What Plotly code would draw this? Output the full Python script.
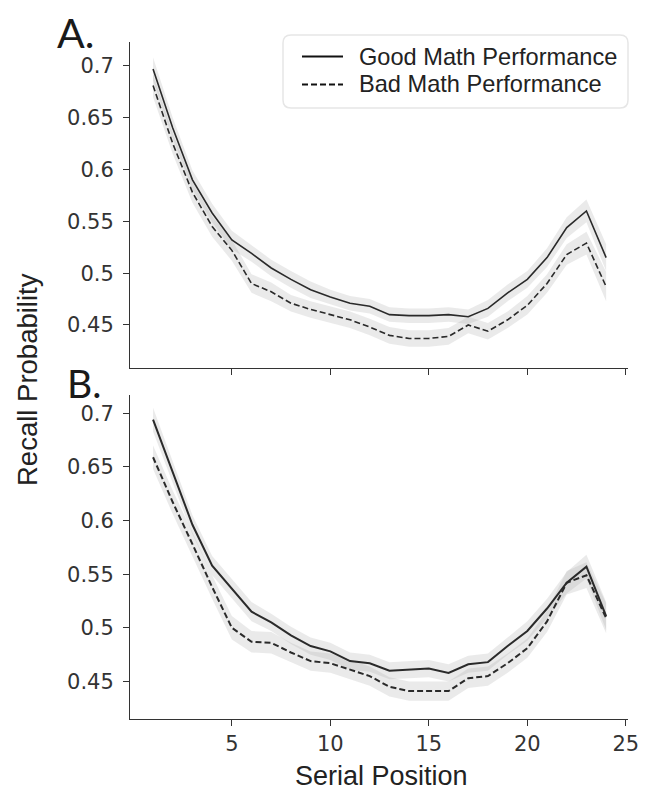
import plotly.graph_objects as go

# ---------------- data ----------------
positions = list(range(1, 25))

good_a = [0.697, 0.640, 0.590, 0.558, 0.532, 0.519, 0.505, 0.494, 0.484, 0.477, 0.471, 0.468,
          0.460, 0.459, 0.459, 0.460, 0.458, 0.466, 0.481, 0.494, 0.515, 0.544, 0.560, 0.515]
bad_a = [0.681, 0.625, 0.578, 0.545, 0.522, 0.490, 0.482, 0.471, 0.465, 0.460, 0.455, 0.448,
         0.440, 0.437, 0.437, 0.439, 0.450, 0.444, 0.455, 0.469, 0.490, 0.518, 0.529, 0.487]
good_b = [0.694, 0.645, 0.596, 0.558, 0.536, 0.515, 0.505, 0.493, 0.483, 0.478, 0.469, 0.467,
          0.460, 0.461, 0.462, 0.458, 0.466, 0.468, 0.483, 0.497, 0.518, 0.542, 0.557, 0.511]
bad_b = [0.659, 0.617, 0.578, 0.538, 0.500, 0.487, 0.486, 0.477, 0.469, 0.467, 0.461, 0.455,
         0.445, 0.441, 0.441, 0.441, 0.453, 0.455, 0.467, 0.481, 0.506, 0.542, 0.549, 0.509]

# confidence band half-widths
ci_good_a = [0.011, 0.010, 0.009, 0.009, 0.009, 0.008, 0.008, 0.008, 0.008, 0.007, 0.007, 0.007,
             0.007, 0.007, 0.007, 0.007, 0.007, 0.008, 0.008, 0.008, 0.009, 0.010, 0.011, 0.013]
ci_bad_a = [0.011, 0.010, 0.010, 0.010, 0.010, 0.009, 0.009, 0.008, 0.008, 0.008, 0.008, 0.008,
            0.008, 0.008, 0.008, 0.008, 0.008, 0.008, 0.008, 0.009, 0.009, 0.010, 0.011, 0.014]
ci_good_b = [0.011, 0.010, 0.009, 0.009, 0.009, 0.009, 0.008, 0.008, 0.008, 0.008, 0.008, 0.008,
             0.008, 0.008, 0.008, 0.008, 0.008, 0.008, 0.008, 0.009, 0.009, 0.010, 0.011, 0.013]
ci_bad_b = [0.011, 0.011, 0.011, 0.011, 0.011, 0.010, 0.010, 0.009, 0.009, 0.009, 0.009, 0.009,
            0.009, 0.009, 0.009, 0.009, 0.009, 0.009, 0.009, 0.009, 0.010, 0.011, 0.012, 0.014]

y_ticks = [0.45, 0.5, 0.55, 0.6, 0.65, 0.7]
y_tick_labels = ["0.45", "0.5", "0.55", "0.6", "0.65", "0.7"]
x_ticks = [5, 10, 15, 20, 25]
x_tick_labels = ["5", "10", "15", "20", "25"]
series_names = ["Good Math Performance", "Bad Math Performance"]

# ---------------- geometry ----------------
# The page body has an 8px margin, so the figure is drawn at (8, 8) in the window.
OFF = 8
W, H = 652 - OFF, 796 - OFF
# plot area in window pixels: x 130..628, y 42..719
L = 130 - OFF
R = W - (628 - OFF)
T = 42 - OFF
B = H - (719 - OFF)
PW, PH = W - L - R, H - T - B


def px_to_paper(sx, sy):
    """window pixel -> paper coordinate"""
    fx, fy = sx - OFF, sy - OFF
    return (fx - L) / PW, (H - B - fy) / PH


LINE_COL = "#2a2a2a"
BAND_COL = "rgba(175,175,175,0.26)"
DASH = "6px,3px"

fig = go.Figure()


def add_series(vals, ci, xa, ya, dash, width):
    upper = [v + c for v, c in zip(vals, ci)]
    lower = [v - c for v, c in zip(vals, ci)]
    fig.add_trace(go.Scatter(
        x=positions + positions[::-1], y=upper + lower[::-1],
        fill="toself", fillcolor=BAND_COL, line=dict(width=0),
        mode="lines", hoverinfo="skip", showlegend=False, xaxis=xa, yaxis=ya))
    return dict(vals=vals, xa=xa, ya=ya, dash=dash, width=width)


lines = []
lines.append(add_series(good_a, ci_good_a, "x", "y", "solid", 1.6))
lines.append(add_series(bad_a, ci_bad_a, "x", "y", DASH, 1.6))
lines.append(add_series(good_b, ci_good_b, "x2", "y2", "solid", 2.0))
lines.append(add_series(bad_b, ci_bad_b, "x2", "y2", DASH, 2.0))

for i, ln in enumerate(lines):
    fig.add_trace(go.Scatter(
        x=positions, y=ln["vals"], mode="lines",
        line=dict(color=LINE_COL, width=ln["width"], dash=ln["dash"]),
        name=series_names[i % 2], showlegend=False,
        xaxis=ln["xa"], yaxis=ln["ya"]))

top_dom = [(719 - 368) / PH, 1.0]
bot_dom = [0.0, (719 - 395) / PH]
x_range = [-0.17, 25.11]

axis_common = dict(showline=True, linecolor="#333333", linewidth=1, ticks="outside",
                   ticklen=6, tickcolor="#333333", tickwidth=1, showgrid=False,
                   zeroline=False, tickfont=dict(family="DejaVu Sans", size=21, color="#333333"))

fig.update_layout(
    width=W, height=H,
    margin=dict(l=L, r=R, t=T, b=B),
    paper_bgcolor="white", plot_bgcolor="white",
    showlegend=False,
    xaxis=dict(domain=[0, 1], range=x_range, anchor="y", tickvals=x_ticks,
               ticktext=x_tick_labels, showticklabels=False, **axis_common),
    yaxis=dict(domain=top_dom, range=[0.4085, 0.723], anchor="x", tickvals=y_ticks,
               ticktext=y_tick_labels, ticklabelstandoff=5, **axis_common),
    xaxis2=dict(domain=[0, 1], range=x_range, anchor="y2", tickvals=x_ticks,
                ticktext=x_tick_labels, **axis_common),
    yaxis2=dict(domain=bot_dom, range=[0.415, 0.717], anchor="x2", tickvals=y_ticks,
                ticktext=y_tick_labels, ticklabelstandoff=5, **axis_common),
)

# ---------------- legend (drawn manually) ----------------
bx0, by0, bx1, by1, rad = 283, 35, 628, 108, 8


def P(sx, sy):
    x, y = px_to_paper(sx, sy)
    return f"{x:.5f},{y:.5f}"


path = (f"M {P(bx0 + rad, by0)} L {P(bx1 - rad, by0)} Q {P(bx1, by0)} {P(bx1, by0 + rad)} "
        f"L {P(bx1, by1 - rad)} Q {P(bx1, by1)} {P(bx1 - rad, by1)} "
        f"L {P(bx0 + rad, by1)} Q {P(bx0, by1)} {P(bx0, by1 - rad)} "
        f"L {P(bx0, by0 + rad)} Q {P(bx0, by0)} {P(bx0 + rad, by0)} Z")
fig.add_shape(type="path", path=path, xref="paper", yref="paper",
              line=dict(color="#e6e6e6", width=1.5), fillcolor="white", layer="above")

leg_rows = [(56.5, "solid"), (84.5, DASH)]
for (ry, dash), name in zip(leg_rows, series_names):
    x0, y0 = px_to_paper(302, ry)
    x1, _ = px_to_paper(343, ry)
    fig.add_shape(type="line", xref="paper", yref="paper", x0=x0, x1=x1, y0=y0, y1=y0,
                  line=dict(color="#111111", width=2.2, dash=dash), layer="above")
    tx, ty = px_to_paper(357, ry)
    fig.add_annotation(x=tx, y=ty, xref="paper", yref="paper", text=name, showarrow=False,
                       xanchor="left", yanchor="middle",
                       font=dict(family="Liberation Sans", size=23.6, color="#222222"))

# ---------------- titles & panel labels ----------------
ax, ay = px_to_paper(28, 380)
fig.add_annotation(x=ax, y=ay, xref="paper", yref="paper", text="Recall Probability",
                   textangle=-90, showarrow=False, xanchor="center", yanchor="middle",
                   font=dict(family="Liberation Sans", size=27.5, color="#222222"))
sx, sy = px_to_paper(381, 776)
fig.add_annotation(x=sx, y=sy, xref="paper", yref="paper", text="Serial Position",
                   showarrow=False, xanchor="center", yanchor="middle",
                   font=dict(family="Liberation Sans", size=27, color="#222222"))

for lbl, (lx, ly), fs in [("A.", (55, 33), 41), ("B.", (65, 383), 39)]:
    px_, py_ = px_to_paper(lx, ly)
    fig.add_annotation(x=px_, y=py_, xref="paper", yref="paper", text=lbl, showarrow=False,
                       xanchor="left", yanchor="middle",
                       font=dict(family="Lato", size=fs, color="#1a1a1a"))

fig.write_html("out.html")
